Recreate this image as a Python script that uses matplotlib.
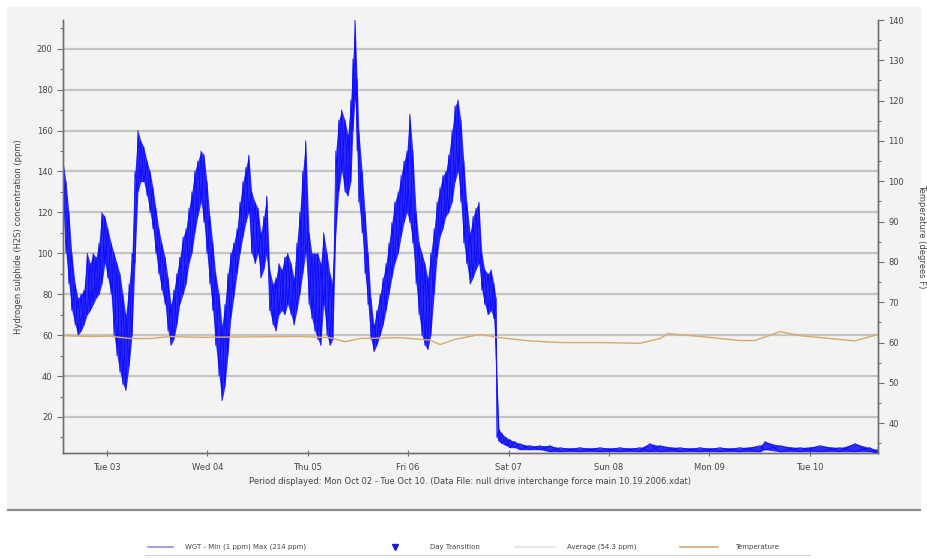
import numpy as np
import matplotlib
matplotlib.use("Agg")
import matplotlib.pyplot as plt
from matplotlib.patches import Rectangle
from matplotlib.lines import Line2D
from matplotlib.ticker import MultipleLocator

# --- DATOS (horas desde lun 02 oct 00:00) ---

# H2S: envolvente minima / maxima
h2s_horas = [13.5, 14.2, 14.9, 15.6, 16.4, 17.1, 17.8, 18.5, 19.3, 20.0, 20.7, 21.4, 22.1, 22.8,
             23.5, 24.2, 25.0, 25.7, 26.4, 27.1, 27.8, 28.5, 29.3, 30.0, 30.7, 31.4, 32.1, 32.8,
             33.6, 34.3, 35.0, 35.7, 36.4, 37.1, 37.9, 38.6, 39.3, 40.0, 40.7, 41.4, 42.2, 42.9,
             43.6, 44.3, 45.0, 45.7, 46.5, 47.2, 47.9, 48.6, 49.3, 50.0, 50.8, 51.5, 52.2, 52.9,
             53.6, 54.3, 55.1, 55.8, 56.5, 57.2, 57.9, 58.6, 59.4, 60.1, 60.8, 61.5, 62.2, 62.9,
             63.7, 64.4, 65.1, 65.8, 66.5, 67.2, 68.0, 68.7, 69.4, 70.1, 70.8, 71.5, 72.3, 73.0,
             73.7, 74.4, 75.1, 75.8, 76.6, 77.3, 78.0, 78.7, 79.4, 80.1, 80.9, 81.6, 82.3, 82.8,
             83.3, 83.8, 84.2, 85.0, 85.7, 86.4, 87.1, 87.8, 88.5, 89.3, 90.0, 90.7, 91.4, 92.1,
             92.8, 93.6, 94.3, 95.0, 95.7, 96.4, 97.1, 97.9, 98.6, 99.3, 100.0, 100.7, 101.4, 102.2,
             102.9, 103.6, 104.3, 105.0, 105.7, 106.5, 107.2, 107.9, 108.6, 109.3, 110.0, 110.8,
             111.5, 112.2, 112.9, 113.6, 114.3, 115.1, 115.8, 116.5, 117.0, 117.2, 117.7, 118.4,
             119.4, 120.3, 121.5, 122.7, 125.1, 127.5, 129.9, 132.3, 137.1, 141.9, 146.6, 151.4,
             153.8, 156.2, 161.0, 165.8, 170.5, 175.3, 180.1, 181.3, 184.9, 189.7, 194.5, 199.2,
             202.8, 206.4, 208.3]
h2s_min = [125, 100, 85, 72, 65, 60, 62, 65, 70, 72, 75, 78, 80, 85,
           95, 88, 80, 60, 50, 42, 36, 33, 45, 60, 95, 130, 135, 135,
           128, 120, 112, 100, 90, 82, 75, 62, 55, 58, 65, 75, 80, 85,
           95, 100, 110, 118, 125, 115, 100, 85, 72, 55, 40, 28, 35, 50,
           68, 78, 90, 100, 108, 115, 120, 100, 95, 100, 88, 92, 100, 72,
           65, 62, 70, 72, 70, 75, 70, 65, 72, 80, 90, 100, 75, 68,
           62, 58, 55, 75, 60, 55, 58, 110, 130, 140, 130, 128, 135, 160,
           175, 150, 125, 110, 90, 75, 58, 52, 55, 60, 65, 72, 80, 88,
           95, 100, 108, 115, 120, 115, 105, 85, 70, 60, 55, 53, 60, 80,
           98, 108, 112, 118, 120, 125, 135, 140, 125, 105, 95, 85,
           88, 92, 95, 82, 75, 70, 72, 68, 50, 10, 8, 7,
           6, 5, 5, 4, 4, 4, 3, 3, 3, 3, 3, 3,
           3, 3, 3, 3, 3, 3, 3, 4, 3, 3, 3, 3,
           3, 3, 2]
h2s_max = [145, 135, 120, 100, 85, 78, 80, 82, 100, 95, 100, 98, 105, 120,
           118, 112, 105, 100, 95, 90, 80, 70, 85, 100, 140, 160, 155, 152,
           145, 140, 132, 122, 112, 105, 98, 88, 75, 82, 90, 98, 108, 112,
           122, 130, 140, 145, 150, 148, 135, 118, 105, 90, 80, 65, 75, 90,
           100, 105, 112, 125, 135, 142, 148, 130, 125, 122, 110, 118, 128, 92,
           85, 88, 95, 92, 98, 100, 95, 88, 105, 120, 140, 155, 110, 100,
           100, 100, 95, 110, 100, 90, 85, 150, 165, 170, 165, 158, 175, 195,
           214, 185, 160, 140, 120, 100, 78, 65, 72, 80, 88, 95, 105, 115,
           125, 130, 138, 145, 150, 168, 150, 120, 105, 100, 95, 88, 100, 112,
           125, 132, 138, 140, 148, 160, 172, 175, 165, 145, 125, 110,
           118, 122, 125, 100, 92, 90, 92, 85, 78, 40, 14, 12,
           10, 9, 8, 7, 6, 6, 6, 5, 5, 5, 5, 5,
           7, 6, 5, 5, 5, 5, 6, 8, 6, 5, 6, 5,
           7, 5, 4]

# Temperatura (grados F, eje derecho)
temp_horas = [13.5, 20.0, 24.7, 29.5, 34.3, 39.1, 46.2, 58.2, 70.1, 77.3, 80.9, 84.5, 94.0,
              101.2, 103.6, 107.2, 113.2, 117.9, 125.1, 132.3, 141.9, 151.4, 156.2, 158.1,
              165.8, 175.3, 178.9, 184.9, 189.7, 196.8, 202.8, 208.3]
temp_valores = [61.7, 61.5, 61.6, 61.0, 61.0, 61.5, 61.3, 61.4, 61.5, 61.2, 60.2, 61.0, 61.2,
                60.6, 59.5, 60.8, 62.0, 61.2, 60.4, 60.0, 60.0, 59.8, 61.0, 62.2,
                61.5, 60.5, 60.5, 62.7, 61.7, 61.0, 60.4, 62.0]

# Etiquetas de los dias (medianoche de cada dia)
dias_horas = [24, 48, 72, 96, 120, 144, 168, 192]
dias_etiquetas = ["Tue 03", "Wed 04", "Thu 05", "Fri 06", "Sat 07", "Sun 08", "Mon 09", "Tue 10"]

AZUL = "#0a0aff"
TOSTADO = "#d4aa70"
GRIS_TXT = "#444444"

fig = plt.figure(figsize=(9.28, 5.59), dpi=100, facecolor="white")

# Panel gris claro de fondo y linea separadora
fig.patches.append(Rectangle((0.008, 1 - 509 / 559), 0.984, 509 / 559 - 0.012,
                             transform=fig.transFigure, facecolor="#f3f3f3",
                             edgecolor="none", zorder=-10))
fig.lines.append(Line2D([0.009, 0.991], [1 - 510 / 559] * 2, transform=fig.transFigure,
                        color="#8c8c8c", lw=1.6))

ax = fig.add_axes([63 / 928, 1 - 453 / 559, 815 / 928, 433 / 559])
ax.set_facecolor("#f3f3f3")
ax2 = ax.twinx()

# --- Serie H2S ---
h = np.array(h2s_horas)
lo = np.array(h2s_min)
hi = np.array(h2s_max)
idx = np.arange(len(h))
zig = np.where(idx % 2 == 0, hi, lo)
zag = np.where(idx % 2 == 0, lo, hi)
ax.fill_between(h, lo, hi, color=AZUL, lw=0, alpha=0.85, zorder=3)
ax.plot(h, zig, color=AZUL, lw=0.6, zorder=4)
ax.plot(h, zag, color=AZUL, lw=0.6, zorder=4)

# --- Temperatura ---
ax2.plot(temp_horas, temp_valores, color=TOSTADO, lw=1.0, zorder=2)

# Ejes y escalas
ax.set_xlim(13.5, 208.3)
ax.set_ylim(2.4, 214)
ax2.set_ylim(32.6, 140)

ax.set_yticks(range(20, 201, 20))
ax.yaxis.set_minor_locator(MultipleLocator(10))
ax2.set_yticks(range(40, 141, 10))
ax2.yaxis.set_minor_locator(MultipleLocator(5))
ax.set_xticks(dias_horas)
ax.set_xticklabels(dias_etiquetas)

ax.grid(axis="y", color="#c4c4c4", lw=1.6, zorder=0)
ax.set_axisbelow(True)

for a in (ax, ax2):
    a.spines["top"].set_visible(False)
    for s in ("left", "right", "bottom"):
        a.spines[s].set_color("#707070")
        a.spines[s].set_linewidth(1.0)
    a.tick_params(which="both", colors="#707070", labelcolor=GRIS_TXT, labelsize=6, width=0.8)
    a.tick_params(which="major", length=4)
    a.tick_params(which="minor", length=2)
ax.tick_params(axis="x", direction="inout", length=5, pad=5)

ax.set_ylabel("Hydrogen sulphide (H2S) concentration (ppm)", fontsize=6, color=GRIS_TXT, labelpad=10)
ax2.set_ylabel("Temperature (degrees F)", fontsize=6, color=GRIS_TXT, rotation=270, labelpad=16)
ax.set_xlabel("Period displayed: Mon Oct 02 - Tue Oct 10. (Data File: null drive interchange force main 10.19.2006.xdat)",
              fontsize=6, color=GRIS_TXT, labelpad=3)

# --- Leyenda manual ---
ly = 1 - 547 / 559
def fx(px):
    return px / 928

fig.lines.append(Line2D([fx(148), fx(173)], [ly, ly], transform=fig.transFigure, color="#8f8fe8", lw=1.2))
fig.text(fx(185), ly, "WGT - Min (1 ppm) Max (214 ppm)", fontsize=5, color=GRIS_TXT, va="center")
fig.lines.append(Line2D([fx(395)], [ly], transform=fig.transFigure, marker="v", color="#1a1ad0",
                        markersize=5, lw=0))
fig.text(fx(430), ly, "Day Transition", fontsize=5, color=GRIS_TXT, va="center")
fig.lines.append(Line2D([fx(515), fx(555)], [ly, ly], transform=fig.transFigure, color="#e2e2e2", lw=1.2))
fig.text(fx(567), ly, "Average (54.3 ppm)", fontsize=5, color=GRIS_TXT, va="center")
fig.lines.append(Line2D([fx(680), fx(718)], [ly, ly], transform=fig.transFigure, color=TOSTADO, lw=1.2))
fig.text(fx(735), ly, "Temperature", fontsize=5, color=GRIS_TXT, va="center")
fig.lines.append(Line2D([fx(145), fx(810)], [1 - 555 / 559] * 2, transform=fig.transFigure,
                        color="#d0d0d0", lw=0.8))

fig.savefig("out.png", dpi=100, facecolor="white")
